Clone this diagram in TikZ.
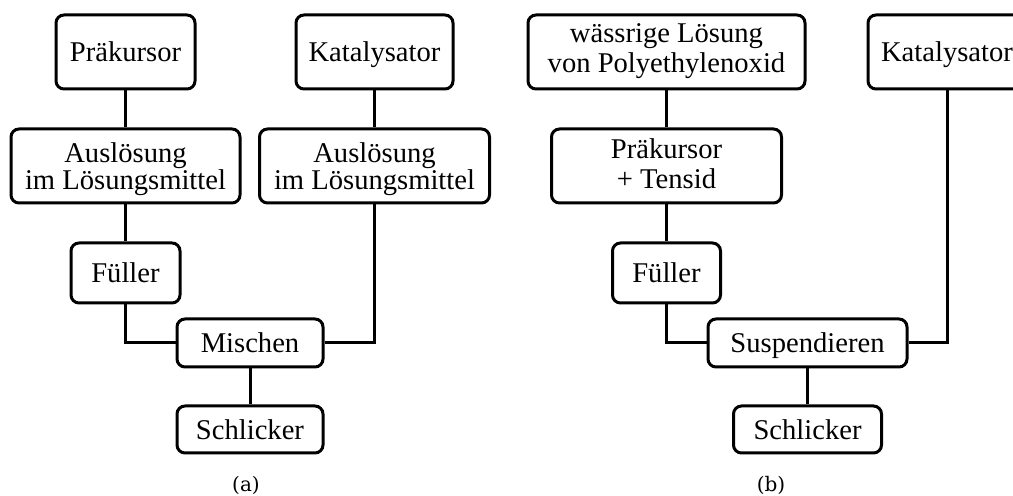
\documentclass[tikz,border=0pt]{standalone}
\usepackage{fontspec}
\setmainfont{Liberation Serif}
\newfontfamily\capfont{DejaVu Serif}
\begin{document}
\begin{tikzpicture}[x=0.5pt,y=-0.5pt,
  box/.style={draw, line width=1.5pt, rounded corners=4pt, inner sep=0pt,
    align=center, font=\fontsize{14.3pt}{13.5pt}\selectfont, minimum height=37pt,
    text height=13pt, text depth=3pt},
  twoA/.style={font=\fontsize{14.3pt}{13.5pt}\selectfont, text height=27pt, text depth=3pt},
  twoB/.style={font=\fontsize{14.3pt}{15pt}\selectfont, text height=24pt, text depth=3pt},
  twoC/.style={font=\fontsize{14.3pt}{15pt}\selectfont, text height=26pt, text depth=3pt},
  link/.style={line width=1.5pt},
  captext/.style={font=\capfont\fontsize{10pt}{12pt}\selectfont}]
\clip (0,0) rectangle (1013,496);
% panel (a)
\node[box, minimum width=69.5pt] (pra) at (125.5,52) {Präkursor};
\node[box, minimum width=78.5pt] (katA) at (374.5,52) {Katalysator};
\node[box, twoA, minimum width=114.5pt] (ausL) at (125.5,166) {Auslösung\\im Lösungsmittel};
\node[box, twoA, minimum width=115pt] (ausR) at (374.5,166) {Auslösung\\im Lösungsmittel};
\node[box, minimum width=54.5pt, minimum height=30pt] (fulA) at (125.5,273) {Füller};
\node[box, minimum width=73pt, minimum height=24pt] (mis) at (250,343) {Mischen};
\node[box, minimum width=73pt, minimum height=23.5pt] (schA) at (250,429.5) {Schlicker};
\node[captext] (capA) at (246,485) {(a)};
\draw[link] (pra) -- (ausL);
\draw[link] (ausL) -- (fulA);
\draw[link] (fulA.south) |- (mis.west);
\draw[link] (katA) -- (ausR);
\draw[link] (ausR.south) |- (mis.east);
\draw[link] (mis) -- (schA);
% panel (b)
\node[box, twoB, minimum width=138.5pt] (wass) at (666.5,52) {wässrige Lösung\\von Polyethylenoxid};
\node[box, minimum width=79pt] (katB) at (947,52) {Katalysator};
\node[box, twoC, minimum width=115pt] (praT) at (666.5,166) {Präkursor\\+ Tensid};
\node[box, minimum width=54pt, minimum height=30pt] (fulB) at (666.5,273) {Füller};
\node[box, minimum width=99.5pt, minimum height=24pt] (sus) at (807.5,343) {Suspendieren};
\node[box, minimum width=74pt, minimum height=23.5pt] (schB) at (807.5,429.5) {Schlicker};
\node[captext] (capB) at (771,485) {(b)};
\draw[link] (wass) -- (praT);
\draw[link] (praT) -- (fulB);
\draw[link] (fulB.south) |- (sus.west);
\draw[link] (katB.south) |- (sus.east);
\draw[link] (sus) -- (schB);
\end{tikzpicture}
\end{document}
